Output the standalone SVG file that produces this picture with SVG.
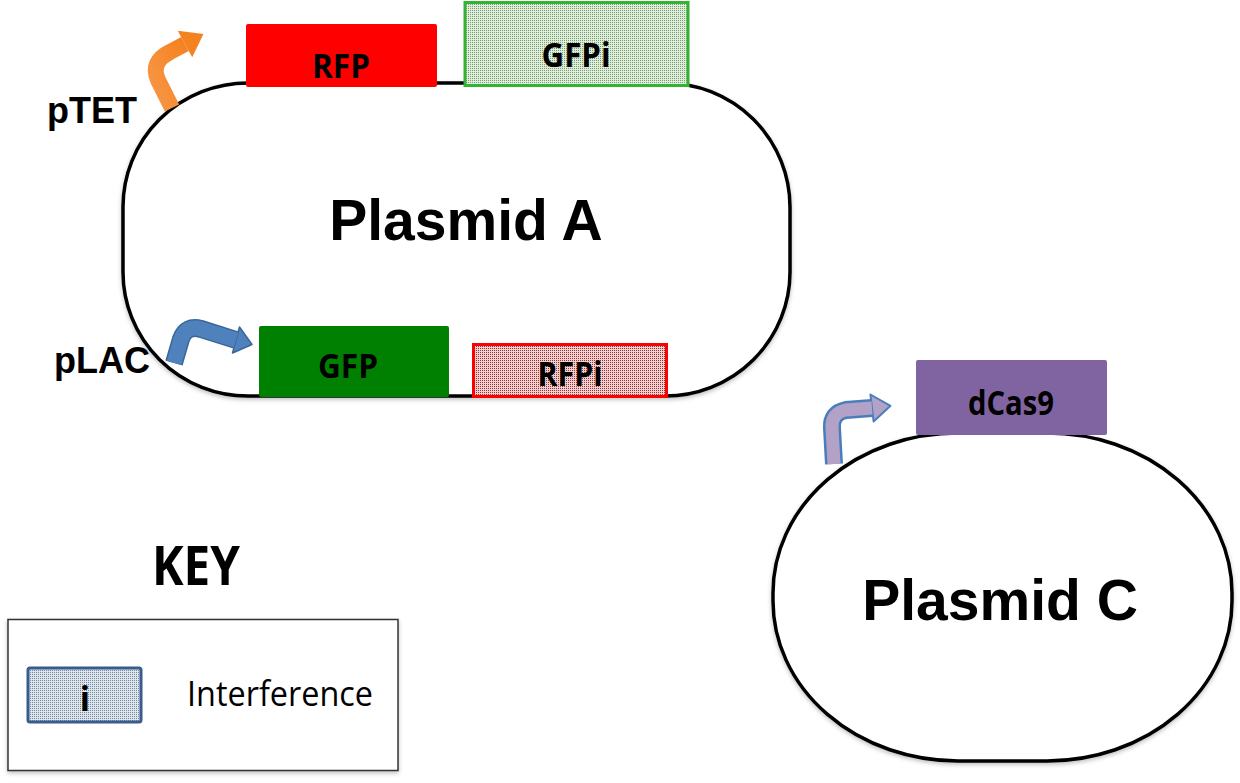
<svg xmlns="http://www.w3.org/2000/svg" width="1240" height="783" viewBox="0 0 1240 783">
<style>
.plasmid{fill:#fff;stroke:#000;stroke-width:3.5}
.big{font-family:"Liberation Sans",Arial,sans-serif;font-weight:bold;font-size:57px;fill:#000;text-anchor:middle}
.prom{font-family:"Liberation Sans",Arial,sans-serif;font-weight:bold;font-size:36px;fill:#000}
.gene{font-family:"Open Sans","DejaVu Sans",sans-serif;font-weight:bold;font-size:34px;fill:#000;text-anchor:middle}
.keyt{font-family:"Open Sans","DejaVu Sans",sans-serif;font-weight:bold;font-size:54px;fill:#000;text-anchor:middle}
.reg{font-family:"Open Sans","DejaVu Sans",sans-serif;font-size:35px;fill:#000}
</style>
<defs>
<pattern id="dotG" width="2" height="2" patternUnits="userSpaceOnUse"><rect width="2" height="2" fill="#e0ecdc"/><rect width="1" height="1" fill="#739f6c"/></pattern>
<pattern id="dotR" width="2" height="2" patternUnits="userSpaceOnUse"><rect width="2" height="2" fill="#efd0d0"/><rect width="1" height="1" fill="#9a3030"/></pattern>
<pattern id="dotB" width="2" height="2" patternUnits="userSpaceOnUse"><rect width="2" height="2" fill="#dfe5ec"/><rect width="1" height="1" fill="#76889e"/></pattern>
<linearGradient id="orng" x1="0" y1="1" x2="1" y2="0"><stop offset="0" stop-color="#F79646"/><stop offset="1" stop-color="#F58220"/></linearGradient>
<filter id="sh" x="-5%" y="-5%" width="110%" height="115%"><feDropShadow dx="0" dy="2" stdDeviation="2" flood-color="#000" flood-opacity="0.25"/></filter>
</defs>

<g id="plasmidA">
<rect class="plasmid" x="123" y="83" width="667" height="313" rx="125" ry="124" filter="url(#sh)"/>
<text class="big" x="466" y="240">Plasmid A</text>
</g>

<g id="plasmidC">
<rect class="plasmid" x="773" y="433" width="459" height="328" rx="185" ry="160" filter="url(#sh)"/>
<text class="big" x="1000" y="620">Plasmid C</text>
</g>

<g id="connectors">
<g id="pTET-arrow">
<path d="M172,108 L158,80 Q150,62 170,52 L185,44" fill="none" stroke="url(#orng)" stroke-width="16"/>
<polygon points="177.8,30.8 203.5,34 192.2,57.2" fill="#F58220"/>
</g>
<g id="pLAC-arrow">
<path d="M174,363 L181,339 Q186,325 201,329 L236,340" fill="none" stroke="#3A6699" stroke-width="18"/>
<polygon points="239.5,327 252,344.5 232.5,353" fill="#4F81BD" stroke="#3A6699" stroke-width="1.5" stroke-linejoin="round"/>
<path d="M174,363 L181,339 Q186,325 201,329 L236,340" fill="none" stroke="#4F81BD" stroke-width="15"/>
</g>
<g id="pC-arrow">
<path d="M834,464 L832,428 Q831,413 846,410 L872,408" fill="none" stroke="#4A7EBB" stroke-width="18"/>
<polygon points="870.4,394.5 890.5,405.8 873.6,421.5" fill="#B3A2C7" stroke="#4A7EBB" stroke-width="2" stroke-linejoin="round"/>
<path d="M834,464 L832,428 Q831,413 846,410 L872,408" fill="none" stroke="#B3A2C7" stroke-width="13"/>
</g>
</g>

<g id="pTET"><text class="prom" x="47" y="123">pTET</text></g>
<g id="pLAC"><text class="prom" x="54" y="373">pLAC</text></g>

<g id="RFP">
<rect x="246" y="24" width="191" height="63" rx="2" fill="#FF0000"/>
<text class="gene" x="341" y="78" textLength="58" lengthAdjust="spacingAndGlyphs">RFP</text>
</g>
<g id="GFPi">
<rect x="465" y="2.5" width="223" height="83" fill="url(#dotG)" stroke="#33B233" stroke-width="3"/>
<text class="gene" x="576" y="67" textLength="69" lengthAdjust="spacingAndGlyphs">GFPi</text>
</g>
<g id="GFP">
<rect x="259" y="326" width="190" height="71" rx="2" fill="#008000"/>
<text class="gene" x="348" y="378" textLength="60" lengthAdjust="spacingAndGlyphs">GFP</text>
</g>
<g id="RFPi">
<rect x="473.5" y="344.5" width="193" height="52" fill="url(#dotR)" stroke="#FF0000" stroke-width="3"/>
<text class="gene" x="570" y="386" textLength="65" lengthAdjust="spacingAndGlyphs">RFPi</text>
</g>
<g id="dCas9">
<rect x="916" y="360" width="191" height="75" rx="2" fill="#8064A2"/>
<text class="gene" x="1011" y="415" textLength="86" lengthAdjust="spacingAndGlyphs">dCas9</text>
</g>

<g id="key">
<text class="keyt" x="196" y="585" textLength="88" lengthAdjust="spacingAndGlyphs">KEY</text>
<rect x="8" y="619.5" width="390" height="151" fill="#fff" stroke="#333" stroke-width="1.5" filter="url(#sh)"/>
<rect x="28" y="668" width="113" height="54" rx="2" fill="url(#dotB)" stroke="#385D8A" stroke-width="3"/>
<text class="gene" x="85" y="711">i</text>
<text class="reg" x="187" y="706" textLength="186" lengthAdjust="spacingAndGlyphs">Interference</text>
</g>
</svg>
